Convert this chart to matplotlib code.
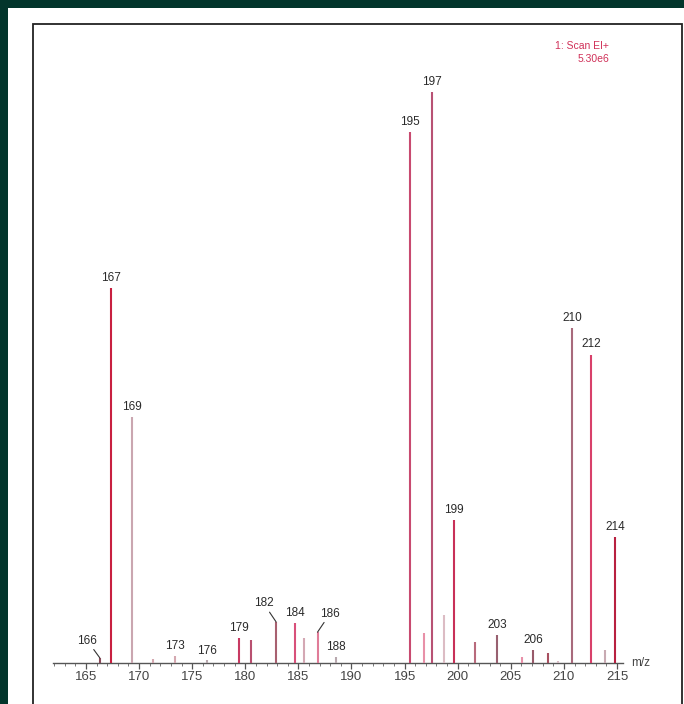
from matplotlib import pyplot as plt
from matplotlib.patches import Rectangle
import numpy as np

# peak positions (m/z) and relative intensities (%)
mz = [166.3, 167.35, 169.3, 171.3, 173.4, 176.4, 179.4, 180.5, 182.9, 184.7,
      185.5, 186.8, 188.5, 195.5, 196.8, 197.6, 198.7, 199.65, 201.6, 203.7,
      206.1, 207.1, 208.5, 209.4, 210.8, 212.55, 213.9, 214.8]
intensity = [0.9, 65.7, 43.0, 0.7, 1.2, 0.5, 4.4, 4.0, 7.2, 7.0,
             4.4, 5.4, 1.0, 93.0, 5.3, 100.0, 8.4, 25.0, 3.7, 4.9,
             1.0, 2.3, 1.7, 0.4, 58.7, 54.0, 2.3, 22.0]
peak_colors = ['#8a4a5a', '#c82040', '#caa6b0', '#d4a8b0', '#d4a8b0', '#b8a8ae', '#c83a62', '#b85070',
               '#a86070', '#d8507a', '#d4a8b4', '#e07c98', '#b8a8ae', '#c84a70', '#e890a8', '#b85274',
               '#dcbcc4', '#c83058', '#b86a7c', '#986070', '#e890a8', '#985a6a', '#a85060', '#d8bcc4',
               '#a86a7c', '#d8406a', '#c8aab2', '#b82040']

# labelled peaks: index into mz, label text, offset of text (points)
label_idx = [0, 1, 2, 4, 5, 6, 8, 9, 11, 12, 13, 15, 17, 19, 21, 24, 25, 27]
label_txt = ['166', '167', '169', '173', '176', '179', '182', '184', '186', '188',
             '195', '197', '199', '203', '206', '210', '212', '214']
label_dx = [-9, 0, 0, 0, 0, 0, -9, 0, 9, 0, 0, 0, 0, 0, 0, 0, 0, 0]
label_dy = [8, 3, 3, 3, 2, 3, 9, 3, 9, 3, 3, 3, 3, 3, 3, 3, 3, 3]
leader = ['166', '182', '186']

major_ticks = np.arange(165, 216, 5)
minor_ticks = np.arange(162, 216, 1)

plt.rcParams['font.family'] = ['Liberation Sans', 'DejaVu Sans']

W, H = 684, 704
fig = plt.figure(figsize=(W / 100, H / 100), dpi=100, facecolor='#02352b')

# white panel and the black frame of the printout
fig.add_artist(Rectangle((8 / W, 0), 1 - 8 / W, 1 - 8 / H, transform=fig.transFigure,
                         facecolor='white', edgecolor='none', zorder=0))
fig.add_artist(Rectangle((33 / W, -0.05), (682 - 33) / W, 1 - 24 / H + 0.05, transform=fig.transFigure,
                         facecolor='none', edgecolor='#222222', lw=1.3, zorder=1))

# axes placed so that 165 sits at x=86 px and the baseline at y=663 px
px_unit = 10.62
x0, x1 = 161, 217
left = 86 - (165 - x0) * px_unit
right = 86 + (x1 - 165) * px_unit
y_top = 663 - 105 * 5.71
ax = fig.add_axes([left / W, (H - 663) / H, (right - left) / W, (663 - y_top) / H])
ax.patch.set_alpha(0)
ax.set_xlim(x0, x1)
ax.set_ylim(0, 105)

ax.vlines(mz, 0, intensity, colors=peak_colors, lw=1.5, zorder=3)

# baseline axis only
for s in ['top', 'right', 'left']:
    ax.spines[s].set_visible(False)
ax.spines['bottom'].set_bounds(161.9, 215.6)
ax.spines['bottom'].set_color('#555555')
ax.spines['bottom'].set_linewidth(1.0)
ax.set_yticks([])
ax.set_xticks(major_ticks)
ax.set_xticks(minor_ticks, minor=True)
ax.tick_params(axis='x', which='major', length=4, width=0.9, color='#555555',
               labelsize=9.5, labelcolor='#444444', pad=2)
ax.tick_params(axis='x', which='minor', length=2, width=0.7, color='#777777')

# peak labels
for i, t, dx, dy in zip(label_idx, label_txt, label_dx, label_dy):
    if t in leader:
        ax.annotate(t, xy=(mz[i], intensity[i]), xytext=(dx, dy), textcoords='offset points',
                    ha='center', va='bottom', fontsize=8.5, color='#2a2a2a',
                    arrowprops=dict(arrowstyle='-', color='#333333', lw=0.8, shrinkA=0, shrinkB=0))
    else:
        ax.annotate(t, xy=(mz[i], intensity[i]), xytext=(dx, dy), textcoords='offset points',
                    ha='center', va='bottom', fontsize=8.5, color='#2a2a2a')

ax.text(216.3, 0, 'm/z', fontsize=8.5, color='#444444', ha='left', va='center')

# scan info in the top right corner
fig.text(609 / W, 1 - 46 / H, '1: Scan EI+', fontsize=7.5, color='#d03058', ha='right', va='center')
fig.text(609 / W, 1 - 59 / H, '5.30e6', fontsize=7.5, color='#d03058', ha='right', va='center')

plt.savefig('out.png', dpi=100, facecolor=fig.get_facecolor())
